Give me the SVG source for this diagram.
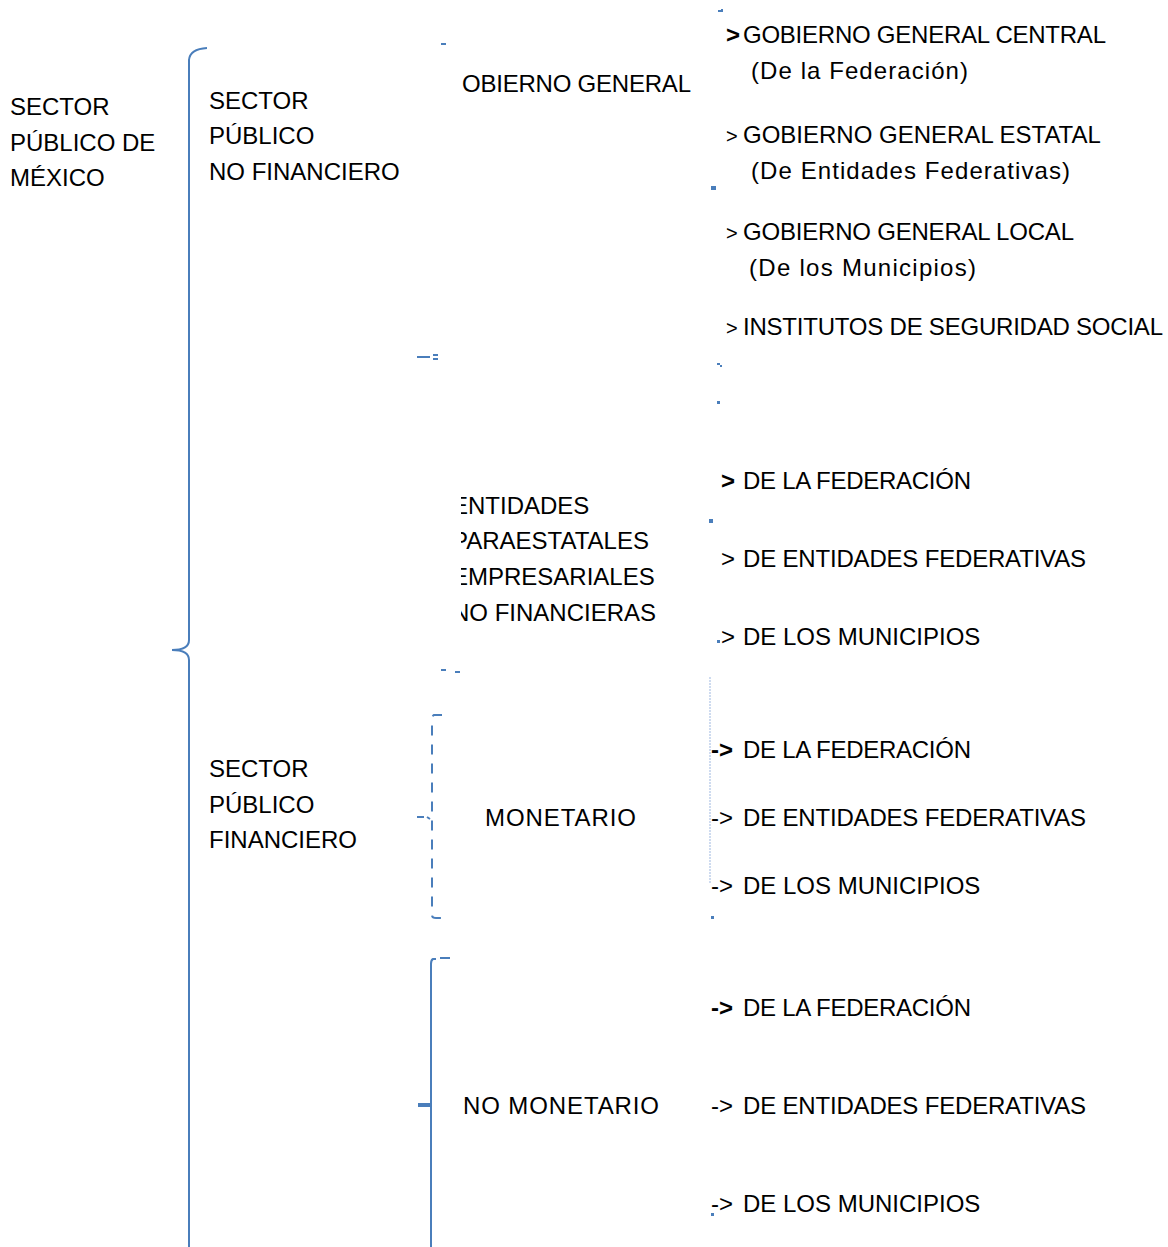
<svg xmlns="http://www.w3.org/2000/svg" width="1168" height="1247" viewBox="0 0 1168 1247">
<style>
text{font-family:"Liberation Sans",Arial,sans-serif;font-size:24px;fill:#000}
.b{font-weight:bold}
.ln{fill:none;stroke:#4a7ebb;stroke-width:2}
.dot{fill:#4a7ebb}
</style>
<defs>
<clipPath id="clipEnt"><rect x="461" y="480" width="240" height="160"/></clipPath>
</defs>
<rect width="1168" height="1247" fill="#fff"/>
<g id="connectors">
<path class="ln" d="M207,48 Q190,49 189,60 L189,640 Q189,650 172,650 Q189,650 189,660 L189,1247"/>
<path class="ln" d="M442,715 L434,715 Q432,716 432,721 L432,915 Q432,918 436,918 L442,918" stroke-dasharray="10 9" stroke-width="2.5"/>
<path class="ln" d="M417,817 L424,817 M427,817 L430,819" stroke-width="2"/>
<path class="ln" d="M450,958 L440,958 M436,959 L433,959 Q431,960 431,964 L431,1247" stroke-width="2.5"/>
<rect class="dot" x="418" y="1103" width="12" height="4"/>
<path d="M710,677 L710,883" fill="none" stroke="#9db7e0" stroke-width="1" stroke-dasharray="2 1"/>
<rect class="dot" x="441" y="43" width="5" height="2"/>
<rect class="dot" x="417" y="356" width="13" height="2"/>
<rect class="dot" x="433" y="354" width="5" height="2"/>
<rect class="dot" x="433" y="358" width="5" height="2"/>
<rect class="dot" x="441" y="669" width="5" height="2"/>
<rect class="dot" x="455" y="671" width="5" height="2"/>
<rect class="dot" x="718" y="10" width="3" height="2"/>
<rect class="dot" x="721" y="9" width="2" height="3"/>
<rect class="dot" x="711" y="186" width="5" height="4"/>
<rect class="dot" x="717" y="363" width="3" height="2"/>
<rect class="dot" x="720" y="365" width="2" height="2"/>
<rect class="dot" x="717" y="401" width="3" height="3"/>
<rect class="dot" x="709" y="519" width="4" height="4"/>
<rect class="dot" x="717" y="640" width="3" height="3"/>
<rect class="dot" x="711" y="916" width="3" height="3"/>
<rect class="dot" x="711" y="1213" width="3" height="3"/>
</g>
<g id="sector-publico-mexico">
<text x="10" y="115">SECTOR</text>
<text x="10" y="150.5">PÚBLICO DE</text>
<text x="10" y="186">MÉXICO</text>
</g>
<g id="sector-no-financiero">
<text x="209" y="108.5">SECTOR</text>
<text x="209" y="144">PÚBLICO</text>
<text x="209" y="179.5">NO FINANCIERO</text>
</g>
<g id="sector-financiero">
<text x="209" y="777">SECTOR</text>
<text x="209" y="812.5">PÚBLICO</text>
<text x="209" y="848">FINANCIERO</text>
</g>
<g id="gobierno-general">
<text x="462" y="92" textLength="229">OBIERNO GENERAL</text>
</g>
<g id="entidades" clip-path="url(#clipEnt)">
<text x="452" y="514">ENTIDADES</text>
<text x="452" y="549">PARAESTATALES</text>
<text x="452" y="585">EMPRESARIALES</text>
<text x="452" y="621">NO FINANCIERAS</text>
</g>
<g id="monetario">
<text x="485" y="826" textLength="151">MONETARIO</text>
</g>
<g id="no-monetario">
<text x="463" y="1114" textLength="196">NO MONETARIO</text>
</g>
<g id="gg-central">
<text x="726" y="43" class="b">&gt;</text>
<text x="743" y="43" textLength="363">GOBIERNO GENERAL CENTRAL</text>
<text x="751" y="79" textLength="217">(De la Federación)</text>
</g>
<g id="gg-estatal">
<text x="726" y="143" style="font-size:20px">&gt;</text>
<text x="743" y="143">GOBIERNO GENERAL ESTATAL</text>
<text x="751" y="179" textLength="319">(De Entidades Federativas)</text>
</g>
<g id="gg-local">
<text x="726" y="240" style="font-size:20px">&gt;</text>
<text x="743" y="240" textLength="331">GOBIERNO GENERAL LOCAL</text>
<text x="749" y="276" textLength="227">(De los Municipios)</text>
</g>
<g id="institutos">
<text x="726" y="335" style="font-size:20px">&gt;</text>
<text x="743" y="335" textLength="420">INSTITUTOS DE SEGURIDAD SOCIAL</text>
</g>
<g id="ent-federacion">
<text x="721" y="489" class="b">&gt;</text>
<text x="743" y="489" textLength="228">DE LA FEDERACIÓN</text>
</g>
<g id="ent-entidades">
<text x="721" y="567">&gt;</text>
<text x="743" y="567" textLength="343">DE ENTIDADES FEDERATIVAS</text>
</g>
<g id="ent-municipios">
<text x="721" y="645">&gt;</text>
<text x="743" y="645">DE LOS MUNICIPIOS</text>
</g>
<g id="mon-federacion">
<text x="711" y="758" class="b">-&gt;</text>
<text x="743" y="758" textLength="228">DE LA FEDERACIÓN</text>
</g>
<g id="mon-entidades">
<text x="711" y="826">-&gt;</text>
<text x="743" y="826" textLength="343">DE ENTIDADES FEDERATIVAS</text>
</g>
<g id="mon-municipios">
<text x="711" y="894">-&gt;</text>
<text x="743" y="894">DE LOS MUNICIPIOS</text>
</g>
<g id="nomon-federacion">
<text x="711" y="1016" class="b">-&gt;</text>
<text x="743" y="1016" textLength="228">DE LA FEDERACIÓN</text>
</g>
<g id="nomon-entidades">
<text x="711" y="1114">-&gt;</text>
<text x="743" y="1114" textLength="343">DE ENTIDADES FEDERATIVAS</text>
</g>
<g id="nomon-municipios">
<text x="711" y="1212">-&gt;</text>
<text x="743" y="1212">DE LOS MUNICIPIOS</text>
</g>
</svg>
